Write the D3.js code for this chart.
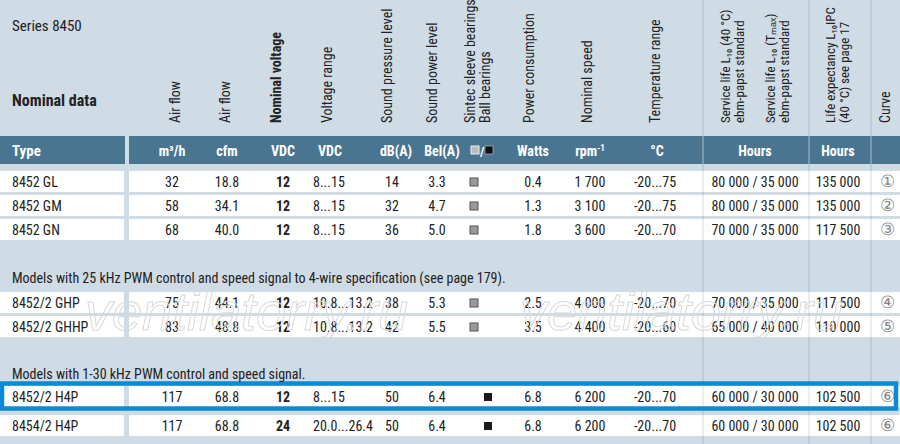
<!DOCTYPE html>
<html><head><meta charset="utf-8">
<script src="https://cdn.jsdelivr.net/npm/d3@7"></script>
<style>
body{margin:0;background:#cfdbe5;}
text{font-family:"Liberation Sans Narrow","Roboto Condensed","Liberation Sans",sans-serif;}
</style></head>
<body>
<script>
var types = ["8452 GL","8452 GM","8452 GN","8452/2 GHP","8452/2 GHHP","8452/2 H4P","8454/2 H4P"];
var airM3 = ["32","58","68","75","83","117","117"];
var airCfm = ["18.8","34.1","40.0","44.1","48.8","68.8","68.8"];
var volt = ["12","12","12","12","12","12","24"];
var vRange = ["8...15","8...15","8...15","10.8...13.2","10.8...13.2","8...15","20.0...26.4"];
var dbA = ["14","32","36","38","42","50","50"];
var belA = ["3.3","4.7","5.0","5.3","5.5","6.4","6.4"];
var bearing = ["S","S","S","S","S","B","B"];
var watts = ["0.4","1.3","1.8","2.5","3.5","6.8","6.8"];
var rpm = ["1 700","3 100","3 600","4 000","4 400","6 200","6 200"];
var temp = ["-20...75","-20...75","-20...70","-20...70","-20...60","-20...70","-20...70"];
var life = ["80 000 / 35 000","80 000 / 35 000","70 000 / 35 000","70 000 / 35 000","65 000 / 40 000","60 000 / 30 000","60 000 / 30 000"];
var lifeExp = ["135 000","135 000","117 500","117 500","110 000","102 500","102 500"];
var curve = ["①","②","③","④","⑤","⑥","⑥"];
var rowTop = [171,195,219,292,316,386,415];
var sections = [{t:"Models with 25 kHz PWM control and speed signal to 4-wire specification (see page 179).", y:283},
                {t:"Models with 1-30 kHz PWM control and speed signal.", y:379}];

var W = 900, H = 444, rh = 21;
var svg = d3.select("body").append("svg").attr("width", W).attr("height", H);

var cols = [
  {d:airM3, x:172, a:"middle", u:"m³/h"},
  {d:airCfm, x:227, a:"middle", u:"cfm"},
  {d:volt, x:283, a:"middle", u:"VDC", b:true},
  {d:vRange, x:313, a:"start", u:"VDC", ux:330},
  {d:dbA, x:392, a:"middle", u:"dB(A)", ux:396},
  {d:belA, x:437, a:"middle", u:"Bel(A)", ux:442},
  {d:watts, x:533, a:"middle", u:"Watts"},
  {d:rpm, x:590, a:"middle"},
  {d:temp, x:655, a:"middle", u:"°C", ux:657},
  {d:life, x:755, a:"middle", u:"Hours"},
  {d:lifeExp, x:838, a:"middle", u:"Hours"},
  {d:curve, x:887, a:"middle", c:"#888"}
];

svg.append("rect").attr("x",0).attr("y",136).attr("width",125).attr("height",28).attr("fill","#4a7590");
svg.append("rect").attr("x",129).attr("y",136).attr("width",771).attr("height",28).attr("fill","#4a7590");

[703,809,871].forEach(function(x){
  svg.append("line").attr("x1",x).attr("x2",x).attr("y1",0).attr("y2",H).attr("stroke","#aebdca").attr("stroke-width",1);
});

var rows = svg.selectAll("g.row").data(types).enter().append("g").attr("class","row")
  .attr("transform", function(d,i){ return "translate(0," + rowTop[i] + ")"; });
rows.append("rect").attr("x",0).attr("width",124).attr("height",rh).attr("fill","#fff");
rows.append("rect").attr("x",129).attr("width",771).attr("height",rh).attr("fill","#fff");
[703,809,871].forEach(function(x){
  rows.append("line").attr("x1",x).attr("x2",x).attr("y1",0).attr("y2",rh).attr("stroke","#d5dee6");
});
rows.append("text").attr("x",12).attr("y",15.5).attr("font-size",14).attr("fill","#222").text(function(d){return d;});
cols.forEach(function(c){
  rows.append("text").attr("x",c.x).attr("y", c.c ? 16 : 15.5).attr("text-anchor",c.a)
    .attr("font-size", c.c ? 17 : 14).attr("font-weight", c.b ? "bold" : "normal")
    .attr("fill", c.c || "#222").text(function(d,i){ return c.d[i]; });
});
rows.append("rect")
  .attr("x", function(d,i){ return bearing[i]=="S" ? 470 : 484; }).attr("y",7).attr("width",8).attr("height",8)
  .attr("fill", function(d,i){ return bearing[i]=="S" ? "#9a9a9a" : "#1a1a1a"; })
  .attr("stroke", function(d,i){ return bearing[i]=="S" ? "#555" : "none"; }).attr("stroke-width",1);

svg.append("rect").attr("x",2).attr("y",383.5).attr("width",894).attr("height",25)
  .attr("fill","none").attr("stroke","#0a8ad8").attr("stroke-width",4.5);

svg.selectAll("text.sec").data(sections).enter().append("text").attr("class","sec")
  .attr("x",12).attr("y",function(d){return d.y;}).attr("font-size",14).attr("fill","#222").text(function(d){return d.t;});

svg.append("text").attr("x",12).attr("y",31).attr("font-size",15).attr("fill","#222").text("Series 8450");
svg.append("text").attr("x",12).attr("y",106).attr("font-size",16).attr("font-weight","bold").attr("fill","#222").text("Nominal data");

var hy = 156;
svg.append("text").attr("x",12).attr("y",hy).attr("font-size",15).attr("font-weight","bold").attr("fill","#fff").text("Type");
cols.forEach(function(c){
  if(!c.u) return;
  svg.append("text").attr("x",c.ux||c.x).attr("y",hy).attr("text-anchor","middle").attr("font-size",14)
    .attr("font-weight","bold").attr("fill","#fff").text(c.u);
});
var rt = svg.append("text").attr("x",590).attr("y",hy).attr("text-anchor","middle").attr("font-size",14).attr("font-weight","bold").attr("fill","#fff");
rt.append("tspan").text("rpm");
rt.append("tspan").attr("dy",-5).attr("font-size",9).text("-1");
svg.append("rect").attr("x",471).attr("y",146).attr("width",8).attr("height",8).attr("fill","#bbb").attr("stroke","#eee");
svg.append("text").attr("x",480).attr("y",hy).attr("font-size",13).attr("font-weight","bold").attr("fill","#fff").text("/");
svg.append("rect").attr("x",485).attr("y",146).attr("width",8).attr("height",8).attr("fill","#111").attr("stroke","#eee").attr("stroke-width",0.5);

var vlabels = [
  {t:"Air flow", x:180}, {t:"Air flow", x:230}, {t:"Nominal voltage", x:281, b:true},
  {t:"Voltage range", x:332}, {t:"Sound pressure level", x:392}, {t:"Sound power level", x:437},
  {t:"Sintec sleeve bearings", x:475}, {t:"Ball bearings", x:490},
  {t:"Power consumption", x:534}, {t:"Nominal speed", x:592}, {t:"Temperature range", x:660},
  {t:"Service life L₁₀  (40 °C)", x:730}, {t:"ebm-papst standard", x:744},
  {t:"Service life L₁₀ (Tₘₐₓ)", x:775}, {t:"ebm-papst standard", x:789},
  {t:"Life expectancy L₁₀IPC", x:835}, {t:"(40 °C)  see page 17", x:849},
  {t:"Curve", x:890}
];
svg.selectAll("text.vl").data(vlabels).enter().append("text").attr("class","vl")
  .attr("transform", function(d){ return "translate(" + d.x + ",123) rotate(-90)"; })
  .attr("font-size", function(d){ return d.x > 700 && d.x < 860 ? 13 : 14; })
  .attr("font-weight", function(d){ return d.b ? "bold" : "normal"; })
  .attr("fill","#222").text(function(d){ return d.t; });

[{x:85},{x:520}].forEach(function(w){
  svg.append("text").attr("x",w.x).attr("y",330).attr("font-size",54).attr("font-style","italic")
    .attr("fill","none").attr("stroke","#d8d8d8").attr("stroke-width",1)
    .style("font-family","'Liberation Sans',sans-serif").text("ventilatorry.ru");
});
</script>
</body></html>
